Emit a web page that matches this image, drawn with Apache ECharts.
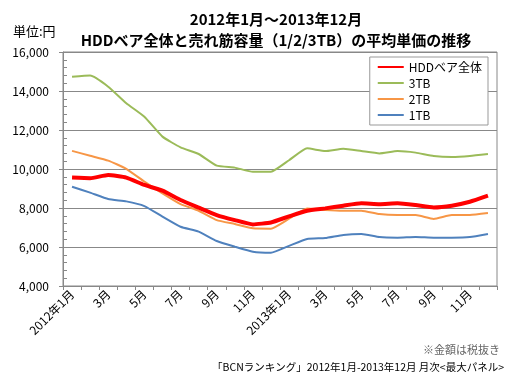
<!DOCTYPE html>
<html><head><meta charset="utf-8">
<script src="https://cdn.jsdelivr.net/npm/echarts@6/dist/echarts.min.js"></script>
<style>html,body{margin:0;padding:0;background:#fff}#c{width:520px;height:378px}</style>
</head><body><div id="c"></div>
<script>
const months = ['2012年1月','2月','3月','4月','5月','6月','7月','8月','9月','10月','11月','12月',
  '2013年1月','2月','3月','4月','5月','6月','7月','8月','9月','10月','11月','12月'];
const seriesNames = ['HDDベア全体','3TB','2TB','1TB'];
const hddAll = [9560,9530,9690,9560,9180,8890,8410,8020,7640,7380,7160,7260,7570,7860,7980,8120,8240,8190,8240,8150,8030,8120,8320,8630];
const tb3 = [14730,14790,14220,13370,12680,11660,11110,10770,10170,10070,9860,9860,10450,11060,10920,11040,10920,10800,10920,10840,10670,10620,10670,10770];
const tb2 = [10930,10680,10430,10010,9350,8750,8200,7860,7380,7180,6960,6940,7450,7980,7900,7860,7860,7690,7640,7640,7440,7640,7640,7740];
const tb1 = [9090,8790,8460,8340,8100,7560,7040,6790,6310,6020,5760,5710,6060,6410,6460,6620,6670,6510,6480,6510,6480,6480,6510,6670];
const yTicks = {min: 4000, max: 16000, step: 2000};
const titleText = '2012年1月～2013年12月\nHDDベア全体と売れ筋容量（1/2/3TB）の平均単価の推移';
const unitText = '単位:円';
const noteText = '※金額は税抜き';
const sourceText = '「BCNランキング」2012年1月-2013年12月 月次<最大パネル>';

const font = '"Noto Sans CJK JP", "Noto Sans", sans-serif';
const chart = echarts.init(document.getElementById('c'));
const colors = ['#FF0000','#9BBB59','#F79646','#4F81BD'];
const dataSets = [hddAll, tb3, tb2, tb1];
chart.setOption({
  animation: false,
  textStyle: {fontFamily: font},
  title: {
    text: titleText, left: 271, top: 4, textAlign: 'center',
    textStyle: {fontSize: 15, fontWeight: 'bold', color: '#000', lineHeight: 21, fontFamily: font}
  },
  legend: {
    data: seriesNames, orient: 'vertical', right: 32, top: 57,
    backgroundColor: '#fff', borderColor: '#999', borderWidth: 1,
    padding: [4, 6, 4, 8], itemGap: 4, itemWidth: 26, itemHeight: 12,
    textStyle: {fontSize: 12, color: '#000', fontFamily: font},
    icon: 'path://M0,5 L26,5 L26,7 L0,7 Z'
  },
  grid: {left: 63, right: 23, top: 52, bottom: 92, show: true, borderColor: '#888', borderWidth: 1},
  xAxis: {
    type: 'category', data: months, boundaryGap: true,
    axisLine: {lineStyle: {color: '#888'}},
    axisTick: {show: true, interval: 0, length: 4, lineStyle: {color: '#888'}},
    axisLabel: {interval: 1, rotate: 45, fontSize: 12, color: '#000', margin: 6, fontFamily: font}
  },
  yAxis: {
    type: 'value', min: yTicks.min, max: yTicks.max, interval: yTicks.step,
    axisLine: {show: true, lineStyle: {color: '#888'}},
    axisTick: {show: true, length: 4, lineStyle: {color: '#888'}},
    minorTick: {show: true, splitNumber: 5, length: -4, lineStyle: {color: '#888'}},
    splitLine: {lineStyle: {color: '#888', width: 1}},
    axisLabel: {fontSize: 12, color: '#000', margin: 14, fontFamily: font,
      formatter: v => v.toLocaleString('en-US')}
  },
  graphic: [
    {type: 'text', left: 13, top: 25, style: {text: unitText, fontSize: 13, fill: '#000', fontFamily: font}},
    {type: 'text', right: 20, top: 344, style: {text: noteText, fontSize: 11, fill: '#666', fontFamily: font}},
    {type: 'text', right: 16, top: 362, style: {text: sourceText, fontSize: 10.5, fill: '#000', fontFamily: font}}
  ],
  series: seriesNames.map((n, i) => ({
    name: n, type: 'line', data: dataSets[i], symbol: 'none', smooth: 0.15,
    z: i === 0 ? 10 : 5 - i,
    lineStyle: {color: colors[i], width: i === 0 ? 4 : 2},
    itemStyle: {color: colors[i]}
  }))
});
</script></body></html>
